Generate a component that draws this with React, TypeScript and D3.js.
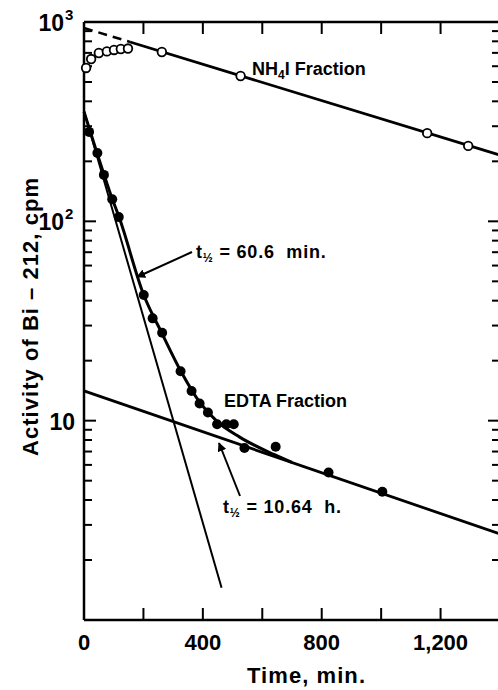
import React from 'react';
import * as d3 from 'd3';

// NH4I fraction (open circles): time in min, activity in cpm
const nh4Time = [7, 24, 50, 77, 101, 124, 148, 262, 527, 1155, 1293];
const nh4Cpm = [588, 652, 699, 712, 724, 732, 736, 707, 536, 277, 239];
// NH4I fitted line, dashed part back-extrapolated to t = 0
const nh4FitTime = [0, 155, 1400];
const nh4FitCpm = [933, 794, 215];

// EDTA fraction (filled circles)
const edtaTime = [17, 45, 67, 95, 117, 201, 231, 263, 325, 362, 389, 417, 448, 479, 504, 540, 645, 823, 1004];
const edtaCpm = [281, 220, 171, 129, 105, 42.7, 32.6, 27.6, 17.7, 14.1, 12.2, 11.0, 9.6, 9.6, 9.6, 7.3, 7.4, 5.5, 4.4];
// curve drawn through the EDTA points
const edtaCurveTime = [0, 44, 94, 118, 201, 262, 326, 389, 447, 524, 641, 700];
const edtaCurveCpm = [355, 220, 131, 105, 42.7, 27.5, 17.7, 12.4, 9.95, 8.27, 6.75, 6.17];
// resolved components
const fastTime = [0, 463];
const fastCpm = [357, 1.45];
const slowTime = [0, 1400];
const slowCpm = [14.1, 2.7];

const xTicks = [0, 200, 400, 600, 800, 1000, 1200, 1400];
const xLabelValues = [0, 400, 800, 1200];
const xLabels = ['0', '400', '800', '1,200'];
const yLabelValues = [1000, 100, 10];
const yLabelBase = ['10', '10', '10'];
const yLabelExp = ['3', '2', ''];

const font = '"Liberation Sans", Arial, Helvetica, sans-serif';

export default function App() {
  const width = 498;
  const height = 690;
  const left = 84, right = 500, top = 22, bottom = 620;

  const x = d3.scaleLinear().domain([0, 1400]).range([left, right]);
  const y = d3.scaleLog().domain([1, 1000]).range([bottom, top]);

  const line = d3.line<[number, number]>().x(d => x(d[0])).y(d => y(d[1]));
  const smooth = d3.line<[number, number]>().x(d => x(d[0])).y(d => y(d[1])).curve(d3.curveMonotoneX);
  const pairs = (t: number[], v: number[]) => t.map((d, i) => [d, v[i]] as [number, number]);

  const yMinor: number[] = [];
  [1, 10, 100].forEach(dec => {
    for (let k = 2; k <= 9; k++) yMinor.push(dec * k);
  });

  const nh4Fit = pairs(nh4FitTime, nh4FitCpm);

  return (
    <div style={{ position: 'absolute', left: 0, top: 0 }}>
      <svg width={width} height={height} style={{ display: 'block', background: '#fff' }} fontFamily={font}>
        <defs>
          <marker id="arr" viewBox="0 0 10 10" refX="9" refY="5" markerWidth="9" markerHeight="9" orient="auto" markerUnits="userSpaceOnUse">
            <path d="M0,0 L10,5 L0,10 z" fill="#000" />
          </marker>
        </defs>

        {/* frame */}
        <line x1={left} x2={left} y1={top} y2={bottom} stroke="#000" strokeWidth={2.5} />
        <line x1={left} x2={right} y1={bottom} y2={bottom} stroke="#000" strokeWidth={2.5} />
        <line x1={left} x2={right} y1={top} y2={top} stroke="#000" strokeWidth={2.5} />
        <line x1={right} x2={right} y1={top} y2={bottom} stroke="#000" strokeWidth={2.5} />

        {/* x ticks, bottom and top, pointing inward */}
        {xTicks.slice(1, -1).map(t => (
          <g key={'xt' + t}>
            <line x1={x(t)} x2={x(t)} y1={bottom} y2={bottom - 12} stroke="#000" strokeWidth={2} />
            <line x1={x(t)} x2={x(t)} y1={top} y2={top + 12} stroke="#000" strokeWidth={2} />
          </g>
        ))}
        {/* y ticks, left and right */}
        {yLabelValues.slice(1).map(v => (
          <g key={'yM' + v}>
            <line x1={left} x2={left + 12} y1={y(v)} y2={y(v)} stroke="#000" strokeWidth={2} />
            <line x1={right} x2={right - 12} y1={y(v)} y2={y(v)} stroke="#000" strokeWidth={2} />
          </g>
        ))}
        {yMinor.map(v => (
          <g key={'ym' + v}>
            <line x1={left} x2={left + 8} y1={y(v)} y2={y(v)} stroke="#000" strokeWidth={2} />
            <line x1={right} x2={right - 8} y1={y(v)} y2={y(v)} stroke="#000" strokeWidth={2} />
          </g>
        ))}

        {/* tick labels */}
        {xLabelValues.map((t, i) => (
          <text key={'xl' + t} x={x(t)} y={650} textAnchor="middle" fontSize={22} fontWeight="bold">{xLabels[i]}</text>
        ))}
        {yLabelValues.map((v, i) => (
          <text key={'yl' + v} x={yLabelExp[i] ? 64 : 75} y={y(v) + 9} textAnchor="end" fontSize={23} fontWeight="bold">
            {yLabelBase[i]}
          </text>
        ))}
        {yLabelValues.map((v, i) => yLabelExp[i] ? (
          <text key={'ye' + v} x={65} y={y(v) - 2} fontSize={15} fontWeight="bold">{yLabelExp[i]}</text>
        ) : null)}

        {/* axis titles */}
        <text x={306} y={683} textAnchor="middle" fontSize={22} fontWeight="bold" textLength={118} lengthAdjust="spacing">Time, min.</text>
        <text transform="translate(38,317) rotate(-90)" textAnchor="middle" fontSize={22} fontWeight="bold" textLength={278} lengthAdjust="spacing">Activity of Bi – 212, cpm</text>

        {/* NH4I fit */}
        <path d={line(nh4Fit.slice(0, 2)) || ''} fill="none" stroke="#000" strokeWidth={2.5} strokeDasharray="9,6" />
        <path d={line(nh4Fit.slice(1)) || ''} fill="none" stroke="#000" strokeWidth={2.8} />

        {/* EDTA components and curve */}
        <path d={line(pairs(fastTime, fastCpm)) || ''} fill="none" stroke="#000" strokeWidth={2} />
        <path d={line(pairs(slowTime, slowCpm)) || ''} fill="none" stroke="#000" strokeWidth={2.8} />
        <path d={smooth(pairs(edtaCurveTime, edtaCurveCpm)) || ''} fill="none" stroke="#000" strokeWidth={3} />

        {/* points */}
        {nh4Time.map((t, i) => (
          <circle key={'n' + i} cx={x(t)} cy={y(nh4Cpm[i])} r={4.3} fill="#fff" stroke="#000" strokeWidth={1.8} />
        ))}
        {edtaTime.map((t, i) => (
          <circle key={'e' + i} cx={x(t)} cy={y(edtaCpm[i])} r={5} fill="#000" />
        ))}

        {/* annotations */}
        <text x={252} y={75} fontSize={18} fontWeight="bold">
          NH<tspan fontSize={12} dy={4}>4</tspan><tspan dy={-4}>I Fraction</tspan>
        </text>
        <text x={224} y={407} fontSize={18} fontWeight="bold">EDTA Fraction</text>

        <line x1={192} y1={252} x2={137} y2={277} stroke="#000" strokeWidth={2} markerEnd="url(#arr)" />
        <text x={196} y={258} fontSize={18} fontWeight="bold" letterSpacing={0.8}>
          t<tspan fontSize={12} dy={4}>½</tspan><tspan dy={-4}>{'\u00a0=\u00a060.6\u00a0\u00a0min.'}</tspan>
        </text>

        <line x1={240} y1={496} x2={219} y2={443} stroke="#000" strokeWidth={2} markerEnd="url(#arr)" />
        <text x={223} y={513} fontSize={18} fontWeight="bold" letterSpacing={0.8}>
          t<tspan fontSize={12} dy={4}>½</tspan><tspan dy={-4}>{'\u00a0=\u00a010.64\u00a0\u00a0h.'}</tspan>
        </text>
      </svg>
    </div>
  );
}
